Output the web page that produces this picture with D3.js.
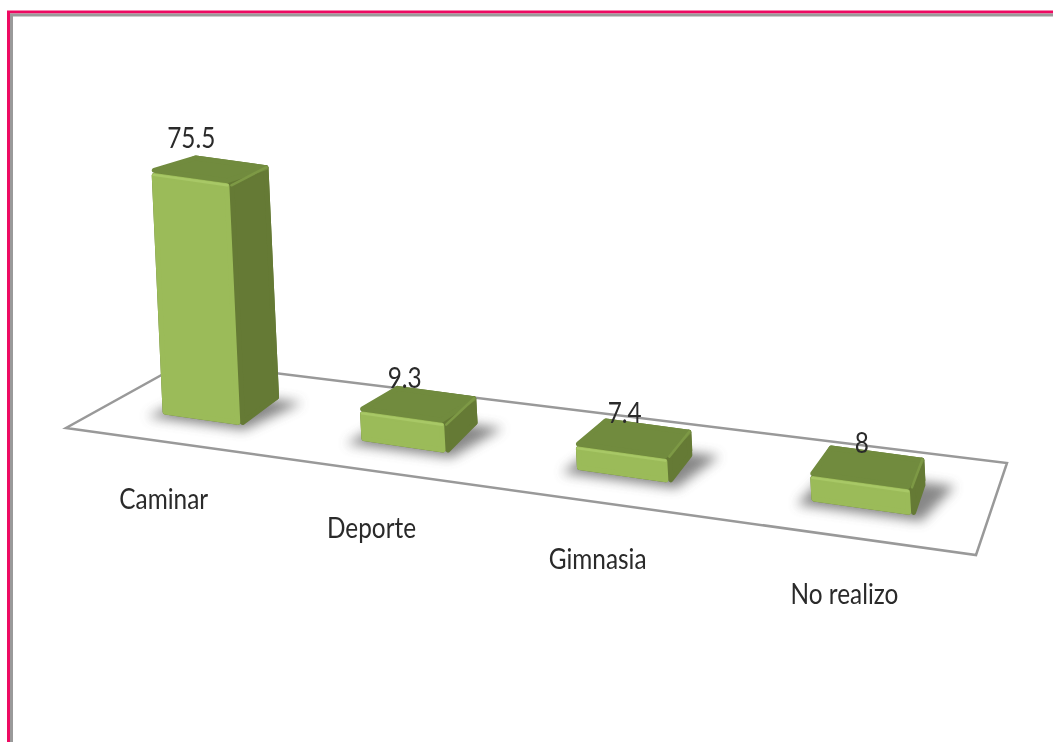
<!DOCTYPE html>
<html>
<head>
<meta charset="utf-8">
<script src="https://cdnjs.cloudflare.com/ajax/libs/d3/7.8.5/d3.min.js"></script>
<style>
html, body { margin: 0; padding: 0; background: #fff; overflow: hidden; }
text { font-family: Lato, "Liberation Sans", sans-serif; fill: #2a2a2a; }
</style>
</head>
<body>
<script>
const categories = ['Caminar', 'Deporte', 'Gimnasia', 'No realizo'];
const values = [75.5, 9.3, 7.4, 8];

const width = 1053, height = 742;

const svg = d3.select('body').append('svg')
    .attr('width', width)
    .attr('height', height);

// window frame
svg.append('path').attr('d', `M8.5,${height}V12H${width}`)
    .attr('fill', 'none').attr('stroke', '#ee0a62').attr('stroke-width', 3);
svg.append('path').attr('d', `M11.5,${height}V15H${width}`)
    .attr('fill', 'none').attr('stroke', '#9a9a9a').attr('stroke-width', 3);

const defs = svg.append('defs');
defs.append('filter').attr('id', 'shadow')
    .attr('x', '-50%').attr('y', '-50%').attr('width', '200%').attr('height', '200%')
    .append('feGaussianBlur').attr('stdDeviation', 6);
defs.append('filter').attr('id', 'soft')
    .append('feGaussianBlur').attr('stdDeviation', 0.7);
defs.append('filter').attr('id', 'textSoft')
    .append('feGaussianBlur').attr('stdDeviation', 0.35);

// floor corners on screen: front-left, front-right, back-right, back-left
const floor = [[66, 428], [976, 555], [1007, 463], [185, 362]];

// perspective map from unit square (u along categories, v into depth) to screen
function makeProjection([p0, p1, p2, p3]) {
    const dx1 = p1[0] - p2[0], dx2 = p3[0] - p2[0], sx = p0[0] - p1[0] + p2[0] - p3[0];
    const dy1 = p1[1] - p2[1], dy2 = p3[1] - p2[1], sy = p0[1] - p1[1] + p2[1] - p3[1];
    const den = dx1 * dy2 - dx2 * dy1;
    const g = (sx * dy2 - dx2 * sy) / den;
    const h = (dx1 * sy - sx * dy1) / den;
    const a = p1[0] - p0[0] + g * p1[0], b = p3[0] - p0[0] + h * p3[0];
    const d = p1[1] - p0[1] + g * p1[1], e = p3[1] - p0[1] + h * p3[1];
    return (u, v) => {
        const w = g * u + h * v + 1;
        return [(a * u + b * v + p0[0]) / w, (d * u + e * v + p0[1]) / w];
    };
}
const project = makeProjection(floor);

const x = d3.scaleBand().domain(categories).range([0, 1])
    .paddingInner(0.6).paddingOuter(0.3);
const depth = { front: 0.3, back: 0.66 };
const y = d3.scaleLinear().domain([0, 80]).range([0, 256]);

// point at category position u, depth v, raised by value
function point(u, v, value) {
    const [px, py] = project(u, v);
    const rise = y(value) * (1 - 0.08 * (v - depth.front));
    return [px - 0.045 * rise, py - rise];
}

const line = d3.line();
const closed = pts => line(pts) + 'Z';

// pull corners in so a thick round stroke gives rounded edges at the same size
function inset(pts, r) {
    const cx = d3.mean(pts, p => p[0]), cy = d3.mean(pts, p => p[1]);
    return pts.map(p => [p[0] + Math.sign(cx - p[0]) * r, p[1] + Math.sign(cy - p[1]) * r]);
}

svg.append('path')
    .attr('d', closed(floor))
    .attr('fill', '#fff')
    .attr('stroke', '#999')
    .attr('stroke-width', 2.5);

const bars = categories.map((name, i) => {
    const u0 = x(name) + 0.002, u1 = u0 + x.bandwidth();
    const v0 = depth.front, v1 = depth.back, val = values[i];
    return {
        name, val, i, u0, u1,
        shadow: [[u0 - 0.012, v0 - 0.05], [u1 + 0.012, v0 - 0.05], [u1 + 0.03, v1], [u0, v1]].map(p => point(p[0], p[1], 0)),
        front: [point(u0, v0, val), point(u1, v0, val), point(u1, v0, 0), point(u0, v0, 0)],
        side: [point(u1, v0, val), point(u1, v1, val), point(u1, v1, 0), point(u1, v0, 0)],
        top: [point(u0, v1, val), point(u1, v1, val), point(u1, v0, val), point(u0, v0, val)],
        outline: [point(u0, v1, val), point(u1, v1, val), point(u1, v1, 0), point(u1, v0, 0), point(u0, v0, 0), point(u0, v0, val)]
    };
});

svg.selectAll('.shadow').data(bars).enter().append('path')
    .attr('class', 'shadow')
    .attr('d', b => closed(b.shadow))
    .attr('fill', '#555')
    .attr('opacity', 0.7)
    .attr('filter', 'url(#shadow)');

const bar = svg.selectAll('.bar').data(bars).enter().append('g').attr('class', 'bar');

const face = (key, color) => bar.append('path')
    .attr('d', b => closed(inset(b[key], 2.5)))
    .attr('fill', color)
    .attr('stroke', color)
    .attr('stroke-width', 5)
    .attr('stroke-linejoin', 'round');
face('outline', '#657a35');
face('side', '#657a35');
face('top', '#718b3e');
face('front', '#9bbb59');

// bevel highlights along the top edges
bar.append('path')
    .attr('d', b => { const f = inset(b.front, 2); return line([f[0], f[1]]); })
    .attr('stroke', '#a8c866').attr('stroke-width', 2.5).attr('fill', 'none')
    .attr('stroke-linecap', 'round')
    .attr('filter', 'url(#soft)');
bar.append('path')
    .attr('d', b => { const s = inset(b.side, 2); return line([s[0], s[1]]); })
    .attr('stroke', '#7d9945').attr('stroke-width', 2.5).attr('fill', 'none')
    .attr('stroke-linecap', 'round')
    .attr('filter', 'url(#soft)');

// value labels drift along the back edge of the bar tops
const labelDx = d3.scaleLinear().domain([0, 3]).range([-2, 33]);
const labelDy = d3.scaleLinear().domain([0, 1, 3]).range([-7, 2, 8]);

svg.selectAll('.value').data(bars).enter().append('text')
    .attr('class', 'value')
    .attr('transform', b => `translate(${b.top[0][0] + labelDx(b.i)},${b.top[0][1] + labelDy(b.i)}) scale(0.87,1)`)
    .attr('text-anchor', 'middle')
    .attr('font-size', 28)
    .attr('filter', 'url(#textSoft)')
    .text(b => b.val);

// category labels sit a fixed distance under the front floor edge
svg.selectAll('.category').data(bars).enter().append('text')
    .attr('class', 'category')
    .attr('transform', b => {
        const [px, py] = project((b.u0 + b.u1) / 2, 0);
        return `translate(${px - 1.5},${py + 67}) scale(0.87,1)`;
    })
    .attr('text-anchor', 'middle')
    .attr('font-size', 28)
    .attr('filter', 'url(#textSoft)')
    .text(b => b.name);
</script>
</body>
</html>
